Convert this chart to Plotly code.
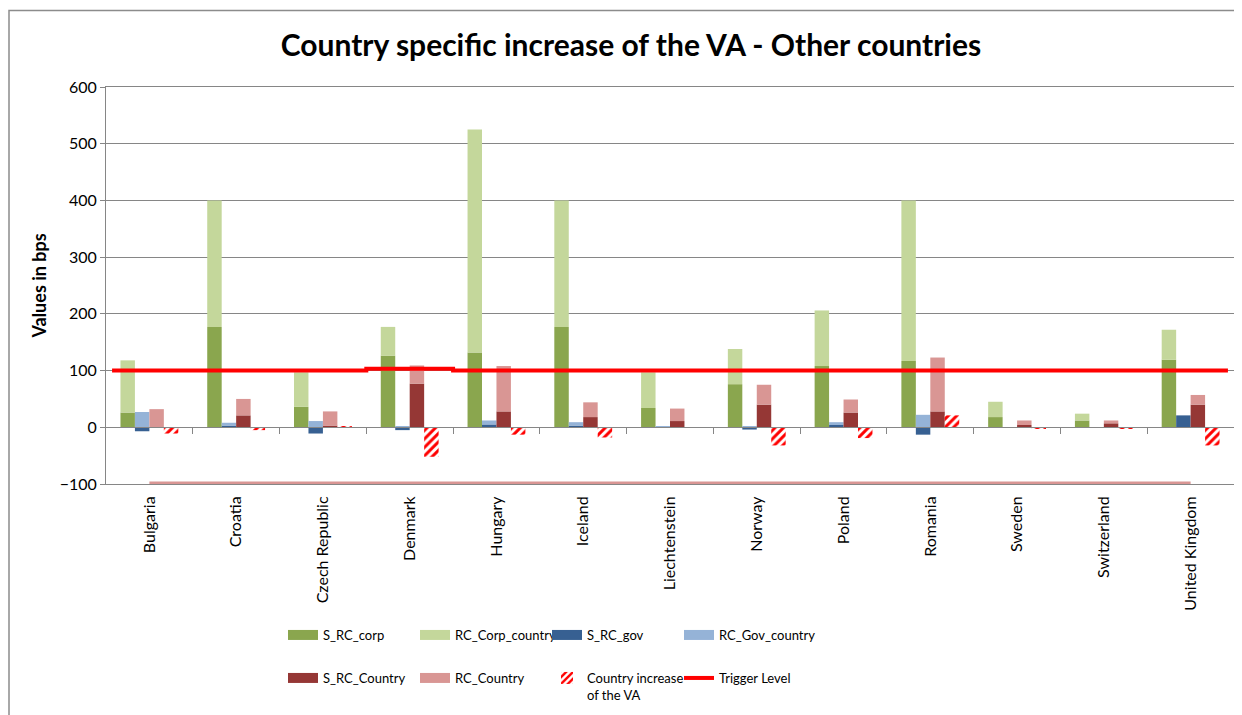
import plotly.graph_objects as go

countries = ["Bulgaria", "Croatia", "Czech Republic", "Denmark", "Hungary", "Iceland",
             "Liechtenstein", "Norway", "Poland", "Romania", "Sweden", "Switzerland",
             "United Kingdom"]

s_rc_corp = [26, 177, 36, 126, 132, 177, 34, 76, 108, 117, 18, 12, 119]
rc_corp_country = [92, 223, 61, 51, 393, 223, 63, 62, 98, 283, 27, 12, 53]
s_rc_gov = [-7, 3, -11, -5, 5, 3, -1, -4, 4, -13, 0, 0, 21]
rc_gov_country = [27, 5, 11, 2, 7, 6, 1, 2, 5, 22, 0, 0, 0]
s_rc_country = [0, 21, 3, 77, 28, 18, 11, 40, 26, 28, 4, 7, 40]
rc_country = [32, 29, 25, 32, 80, 26, 22, 35, 23, 95, 8, 5, 17]
country_increase = [-11, -5, 1, -52, -13, -18, -1, -32, -19, 21, -2, -3, -32]
trigger_level = [100, 100, 100, 103, 100, 100, 100, 100, 100, 100, 100, 100, 100]
floor_level = [-100, -100, -100, -100, -100, -100, -100, -100, -100, -100, -100, -100, -100]

y_ticks = [-100, 0, 100, 200, 300, 400, 500, 600]
Y_MIN, Y_MAX = -100, 600

FONT = "Lato"
GRID = "#868686"
C_DG, C_LG = "#8aa64e", "#c4d79b"
C_DB, C_LB = "#376092", "#95b3d7"
C_DR, C_LR = "#953735", "#d99694"

# ---- layout geometry (screen px; page body adds an 8px offset) ----
OFF = 8
W, H = 1242, 715
PL, PR, PT, PB = 106, 1234, 87, 484      # plot area on screen
ML, MR, MT = PL - OFF, W - (PR - OFF), PT - OFF
MB = H - (PB - OFF)
PAPER_W = PR - PL
PAPER_H = PB - PT


def px(s):
    return (s - PL) / PAPER_W


def py(s):
    return (PB - s) / PAPER_H


idx = list(range(len(countries)))
w = 1 / 6
slot = [-1.5 * w, -0.5 * w, 0.5 * w, 1.5 * w]


def xs(k):
    return [i + slot[k] for i in idx]


fig = go.Figure()

HATCH = dict(shape="/", fgcolor="#ff0000", bgcolor="white", size=6, solidity=0.5,
             fillmode="replace")


def bar(name, x, y, color, legend, pattern=False):
    if pattern:
        fig.add_trace(go.Bar(name=name, x=x, y=y, width=w, legend=legend,
                             marker=dict(color="white", line_width=0, pattern=HATCH)))
    else:
        fig.add_trace(go.Bar(name=name, x=x, y=y, width=w, showlegend=False,
                             marker=dict(color=color, line_width=0)))
        fig.add_trace(go.Scatter(name=name, x=[None], y=[None], mode="lines",
                                 legend=legend, line=dict(color=color, width=10)))


bar("S_RC_corp", xs(0), s_rc_corp, C_DG, "legend")
bar("RC_Corp_country", xs(0), rc_corp_country, C_LG, "legend")
bar("S_RC_gov", xs(1), s_rc_gov, C_DB, "legend")
bar("RC_Gov_country", xs(1), rc_gov_country, C_LB, "legend")
# invisible spacer so the last legend label is not clipped
fig.add_trace(go.Scatter(name=" ", x=[None], y=[None], mode="lines", legend="legend",
                         line=dict(width=0, color="rgba(0,0,0,0)")))
bar("S_RC_Country", xs(2), s_rc_country, C_DR, "legend2")
bar("RC_Country", xs(2), rc_country, C_LR, "legend2")
bar("Country increase<br>of the VA", xs(3), country_increase, None, "legend2", pattern=True)

# trigger level line, slightly extended beyond first/last category
ext = 0.43
tx = [idx[0] - ext] + idx + [idx[-1] + ext]
ty = [trigger_level[0]] + trigger_level + [trigger_level[-1]]
fig.add_trace(go.Scatter(x=tx, y=ty, mode="lines", name="Trigger Level", legend="legend2",
                         line=dict(color="#ff0000", width=4, shape="hvh")))

# floor line (not in legend)
fig.add_trace(go.Scatter(x=idx, y=floor_level, mode="lines", showlegend=False,
                         line=dict(color=C_LR, width=5), hoverinfo="skip"))

# dummy trace for xaxis2 (zero line with boundary ticks)
fig.add_trace(go.Scatter(x=[-0.5, 12.5], y=[0, 0], xaxis="x2", mode="lines",
                         line=dict(width=0), showlegend=False, hoverinfo="skip"))

fig.update_layout(
    width=W, height=H,
    margin=dict(l=ML, r=MR, t=MT, b=MB, autoexpand=False),
    paper_bgcolor="white", plot_bgcolor="white",
    barmode="relative",
    font=dict(family=FONT, size=14, color="#000000"),
    title=dict(text="<b>Country specific increase of the VA - Other countries</b>",
               x=(631 - OFF) / W, xanchor="center", xref="container",
               y=1 - (45 - OFF) / H, yanchor="middle",
               font=dict(family=FONT, size=30, color="#000000")),
    xaxis=dict(range=[-0.5, 12.5], tickmode="array", tickvals=idx, ticktext=countries,
               tickangle=-90, showgrid=False, zeroline=False, ticks="",
               ticklabelstandoff=5, showline=True, linecolor=GRID, mirror=True,
               layer="below traces", automargin=False,
               tickfont=dict(family=FONT, size=16)),
    xaxis2=dict(range=[-0.5, 12.5], overlaying="x", anchor="free",
                position=py(PB - (PB - PT) * (0 - Y_MIN) / (Y_MAX - Y_MIN)),
                tickmode="array", tickvals=[i + 0.5 for i in idx[:-1]],
                ticks="outside", ticklen=6, tickcolor=GRID, showticklabels=False,
                showgrid=False, zeroline=False, showline=True, linecolor=GRID, side="bottom"),
    yaxis=dict(range=[Y_MIN, Y_MAX], tickmode="array", tickvals=y_ticks,
               showgrid=True, gridcolor=GRID, gridwidth=1, zeroline=False,
               ticks="outside", ticklen=5, tickcolor=GRID,
               showline=True, linecolor=GRID, mirror=True, automargin=False,
               layer="below traces",
               title=dict(text="<b>Values in bps</b>", standoff=8,
                          font=dict(family=FONT, size=18)),
               tickfont=dict(family=FONT, size=16)),
    legend=dict(orientation="h", x=px(283), xanchor="left",
                y=py(635), yanchor="middle",
                entrywidth=87, entrywidthmode="pixels", traceorder="normal",
                font=dict(family=FONT, size=13), itemclick=False, bgcolor="rgba(0,0,0,0)"),
    legend2=dict(orientation="h", x=px(283), xanchor="left",
                 y=py(663), yanchor="top", valign="top",
                 entrywidth=87, entrywidthmode="pixels", traceorder="normal",
                 font=dict(family=FONT, size=13), itemclick=False, bgcolor="rgba(0,0,0,0)"),
    shapes=[dict(type="rect", xref="paper", yref="paper",
                 x0=px(9), x1=px(1260), y0=py(740), y1=py(10.5),
                 line=dict(color="#8c8c8c", width=1.5), layer="below")],
)

fig.write_html("out.html")
